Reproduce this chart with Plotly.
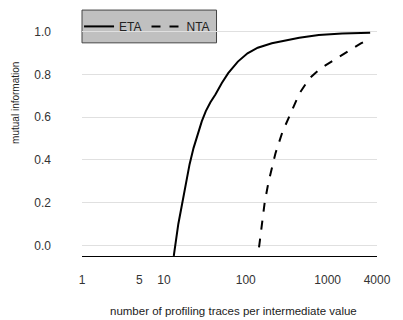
import plotly.graph_objects as go

eta_x = [13.2, 14, 15, 16.4, 18.3, 20.6, 23, 25.9, 29, 32.5, 37, 42.6, 51, 61, 80, 105, 140, 208, 286, 450, 778, 1500, 3300]
eta_y = [-0.05, 0.03, 0.10, 0.178, 0.28, 0.38, 0.455, 0.52, 0.58, 0.628, 0.67, 0.706, 0.76, 0.806, 0.86, 0.899, 0.925, 0.946, 0.957, 0.972, 0.984, 0.991, 0.995]

nta_x = [145, 157, 170, 188, 208, 230, 280, 347, 450, 594, 800, 1112, 1700, 2512, 2800]
nta_y = [-0.01, 0.10, 0.20, 0.29, 0.364, 0.43, 0.53, 0.614, 0.71, 0.78, 0.825, 0.86, 0.905, 0.944, 0.953]

x_ticks = [1, 5, 10, 100, 1000, 4000]
y_ticks = [0.0, 0.2, 0.4, 0.6, 0.8, 1.0]

FONT = "Liberation Sans, Arial, sans-serif"

fig = go.Figure()
fig.add_trace(go.Scatter(x=eta_x, y=eta_y, mode="lines", name="ETA",
                         line=dict(color="black", width=2)))
fig.add_trace(go.Scatter(x=nta_x, y=nta_y, mode="lines", name="NTA",
                         line=dict(color="black", width=2, dash="dash")))

# legend box
fig.add_shape(type="rect", xref="paper", yref="paper", x0=0, x1=0.456, y0=0.907, y1=1.0465,
              fillcolor="#c0c0c0", line=dict(color="#444", width=1), layer="below")

fig.add_annotation(text="mutual information", xref="paper", yref="paper",
                   x=-0.226, y=0.653, xanchor="center", yanchor="middle", textangle=-90,
                   showarrow=False, font=dict(size=10, color="#222"))
fig.add_annotation(text="number of profiling traces per intermediate value", xref="paper", yref="paper",
                   x=0.515, y=-0.232, xanchor="center", yanchor="middle",
                   showarrow=False, font=dict(size=11.5, color="#222"))

fig.update_layout(
    width=403, height=320,
    margin=dict(l=82, r=16, t=19, b=64),
    plot_bgcolor="white", paper_bgcolor="white",
    font=dict(family=FONT, size=12, color="#333"),
    showlegend=True,
    legend=dict(orientation="h", x=-0.01, xanchor="left", y=0.977, yanchor="middle",
                bgcolor="rgba(0,0,0,0)", borderwidth=0,
                font=dict(size=12, color="#222"), itemwidth=30),
    xaxis=dict(type="log", range=[0, 3.6021], tickvals=x_ticks,
               ticktext=[str(v) for v in x_ticks], showgrid=False, zeroline=False,
               showline=True, linecolor="black", linewidth=1, ticks="",
               ticklabelstandoff=13),
    yaxis=dict(range=[-0.05, 1.05], tickvals=y_ticks,
               ticktext=["%.1f" % v for v in y_ticks], showgrid=True,
               gridcolor="#e0e0e0", gridwidth=1, zeroline=False, showline=False,
               ticks="", ticklabelstandoff=30),
)

fig.write_html("out.html")
